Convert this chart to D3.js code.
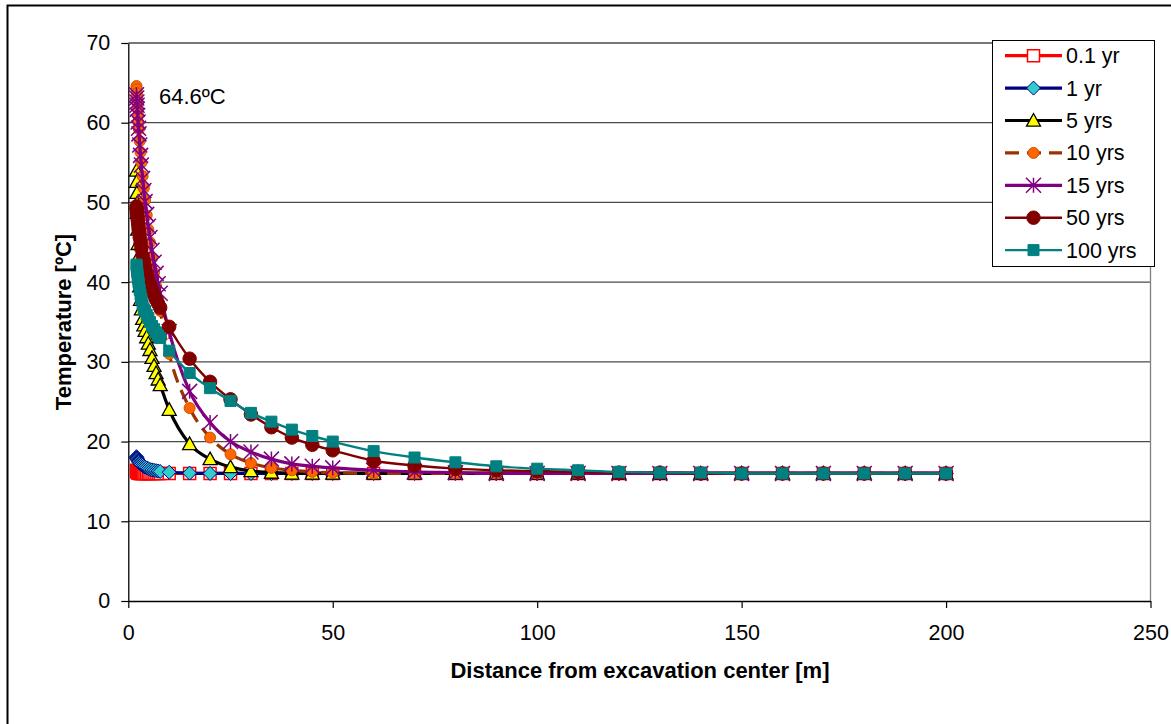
<!DOCTYPE html>
<html>
<head>
<meta charset="utf-8">
<script src="https://cdn.jsdelivr.net/npm/d3@7"></script>
<style>
  body { margin: 0; background: #fff; }
  text { font-family: "Liberation Sans", Arial, sans-serif; }
</style>
</head>
<body>
<svg id="chart" width="1171" height="724"></svg>
<script>
// distances from excavation center [m]
const distance = [2.0, 2.05, 2.1, 2.15, 2.2, 2.3, 2.4, 2.5, 2.6, 2.8, 3.0, 3.2, 3.5, 3.8, 4.1, 4.5, 4.9, 5.3, 5.8, 6.3, 6.8, 7.3, 7.8,
  10, 15, 20, 25, 30, 35, 40, 45, 50, 60, 70, 80, 90, 100, 110, 120, 130, 140, 150, 160, 170, 180, 190, 200];

// temperatures [ºC] for each time
const t01 = [16.4, 16.3, 16.25, 16.2, 16.15, 16.1, 16.1, 16.05, 16.05, 16.0, 16.0, 16.0, 16.0, 16.0, 16.0, 16.0, 16.0, 16.0, 16.0, 16.0, 16.0, 16.0, 16.0,
  16.0, 16.0, 16.0, 16.0, 16.0, 16.0, 16.0, 16.0, 16.0, 16.0, 16.0, 16.0, 16.0, 16.0, 16.0, 16.0, 16.0, 16.0, 16.0, 16.0, 16.0, 16.0, 16.0, 16.0];
const t1 = [18.1, 18.0, 17.9, 17.85, 17.8, 17.7, 17.6, 17.5, 17.4, 17.3, 17.2, 17.1, 17.0, 16.9, 16.8, 16.7, 16.6, 16.5, 16.45, 16.4, 16.35, 16.3, 16.25,
  16.15, 16.05, 16.0, 16.0, 16.0, 16.0, 16.0, 16.0, 16.0, 16.0, 16.0, 16.0, 16.0, 16.0, 16.0, 16.0, 16.0, 16.0, 16.0, 16.0, 16.0, 16.0, 16.0, 16.0];
const t5 = [54.0, 52.6, 51.2, 49.9, 48.7, 46.6, 44.8, 43.2, 41.8, 39.5, 37.8, 36.6, 35.4, 34.6, 33.9, 33.1, 32.3, 31.5, 30.5, 29.5, 28.6, 27.8, 27.1,
  24.0, 19.7, 17.8, 16.8, 16.3, 16.1, 16.0, 16.0, 16.0, 16.0, 16.0, 16.0, 16.0, 16.0, 16.0, 16.0, 16.0, 16.0, 16.0, 16.0, 16.0, 16.0, 16.0, 16.0];
const t10 = [64.6, 64.2, 63.7, 63.2, 62.7, 61.8, 60.9, 60.0, 59.2, 57.7, 56.3, 55.0, 53.3, 51.8, 50.3, 48.4, 46.6, 45.0, 43.0, 41.2, 39.5, 37.9, 36.4,
  31.0, 24.2, 20.5, 18.4, 17.3, 16.7, 16.4, 16.2, 16.1, 16.0, 16.0, 16.0, 16.0, 16.0, 16.0, 16.0, 16.0, 16.0, 16.0, 16.0, 16.0, 16.0, 16.0, 16.0];
const t15 = [63.5, 63.1, 62.6, 62.2, 61.7, 60.9, 60.1, 59.3, 58.6, 57.2, 55.9, 54.7, 53.0, 51.5, 50.1, 48.5, 47.0, 45.6, 44.0, 42.5, 41.1, 39.8, 38.6,
  33.8, 26.3, 22.4, 20.0, 18.7, 17.8, 17.2, 16.9, 16.7, 16.4, 16.2, 16.1, 16.0, 16.0, 16.0, 16.0, 16.0, 16.0, 16.0, 16.0, 16.0, 16.0, 16.0, 16.0];
const t50 = [49.5, 49.2, 48.9, 48.6, 48.3, 47.8, 47.3, 46.8, 46.4, 45.6, 44.9, 44.2, 43.3, 42.5, 41.8, 41.0, 40.3, 39.7, 39.0, 38.4, 37.8, 37.3, 36.8,
  34.4, 30.4, 27.5, 25.3, 23.4, 21.8, 20.5, 19.6, 18.9, 17.6, 17.0, 16.6, 16.4, 16.3, 16.2, 16.1, 16.1, 16.0, 16.0, 16.0, 16.0, 16.0, 16.0, 16.0];
const t100 = [42.2, 42.0, 41.7, 41.5, 41.2, 40.8, 40.4, 40.0, 39.7, 39.0, 38.4, 37.9, 37.2, 36.6, 36.4, 35.9, 35.5, 35.0, 34.5, 34.1, 33.7, 33.3, 33.0,
  31.4, 28.6, 26.7, 25.1, 23.6, 22.5, 21.5, 20.7, 20.0, 18.8, 18.0, 17.4, 16.9, 16.6, 16.4, 16.2, 16.1, 16.1, 16.0, 16.0, 16.0, 16.0, 16.0, 16.0];

const seriesNames = ["0.1 yr", "1 yr", "5 yrs", "10 yrs", "15 yrs", "50 yrs", "100 yrs"];
const seriesValues = [t01, t1, t5, t10, t15, t50, t100];

const xTicks = [0, 50, 100, 150, 200, 250];
const yTicks = [0, 10, 20, 30, 40, 50, 60, 70];

const styles = [
  { line: "#FF0000", width: 3.2, marker: "square", size: 12, fill: "#FFFFFF", stroke: "#FF0000", sw: 1.5 },
  { line: "#000080", width: 3.2, marker: "diamond", size: 14, fill: "#33CCCC", stroke: "#000080", sw: 1 },
  { line: "#000000", width: 3.2, marker: "triangle", size: 14, fill: "#FFFF00", stroke: "#000000", sw: 1.3 },
  { line: "#993300", width: 3.2, dash: "14,8", marker: "circle", size: 11, fill: "#FF6600", stroke: "#CC5200", sw: 1 },
  { line: "#800080", width: 3.2, marker: "star", size: 15, fill: "none", stroke: "#800080", sw: 1.5 },
  { line: "#800000", width: 2.4, marker: "circle", size: 13.5, fill: "#800000", stroke: "#800000", sw: 1 },
  { line: "#008080", width: 2.4, marker: "square", size: 11, fill: "#008080", stroke: "#008080", sw: 1 }
];

function markerPath(type, s) {
  const h = s / 2;
  if (type === "square") return `M${-h},${-h}H${h}V${h}H${-h}Z`;
  if (type === "diamond") return `M0,${-h}L${h},0L0,${h}L${-h},0Z`;
  if (type === "triangle") return `M0,${-h}L${h},${h * 0.8}L${-h},${h * 0.8}Z`;
  if (type === "circle") return d3.symbol(d3.symbolCircle, Math.PI * h * h)();
  // asterisk: X plus vertical bar
  return `M${-h},${-h}L${h},${h}M${h},${-h}L${-h},${h}M0,${-h}V${h}`;
}

const svg = d3.select("#chart");
svg.append("rect").attr("width", 1171).attr("height", 724).attr("fill", "#fff");

// outer chart border (runs off the right and bottom edges)
svg.append("rect")
  .attr("x", 7.5).attr("y", 5.5)
  .attr("width", 1175).attr("height", 730)
  .attr("fill", "none").attr("stroke", "#000").attr("stroke-width", 2);

const x = d3.scaleLinear().domain([0, 250]).range([128.3, 1150.5]);
const y = d3.scaleLinear().domain([0, 70]).range([601, 43]);

// gridlines
svg.append("g").selectAll("line")
  .data(yTicks.filter(d => d > 0))
  .join("line")
  .attr("x1", x(0)).attr("x2", x(250))
  .attr("y1", d => y(d)).attr("y2", d => y(d))
  .attr("stroke", "#4a4a4a").attr("stroke-width", 1.3);

// plot area right border
svg.append("line")
  .attr("x1", x(250)).attr("x2", x(250))
  .attr("y1", y(0)).attr("y2", y(70))
  .attr("stroke", "#808080").attr("stroke-width", 1.3);

// axes
const yAxis = svg.append("g")
  .attr("transform", `translate(${x(0)},0)`)
  .call(d3.axisLeft(y).tickValues(yTicks).tickSize(7).tickPadding(11).tickSizeOuter(0));
const xAxis = svg.append("g")
  .attr("transform", `translate(0,${y(0)})`)
  .call(d3.axisBottom(x).tickValues(xTicks).tickSize(7).tickPadding(17).tickSizeOuter(0));
[xAxis, yAxis].forEach(a => {
  a.select(".domain").attr("stroke", "#000").attr("stroke-width", 1.3);
  a.selectAll(".tick line").attr("stroke", "#000").attr("stroke-width", 1.2);
  a.selectAll(".tick text").attr("font-size", "21.5px").attr("fill", "#000")
    .attr("font-family", "'Liberation Sans', Arial, sans-serif");
});

// series
const line = d3.line()
  .x(d => x(d[0]))
  .y(d => y(d[1]))
  .curve(d3.curveMonotoneX);

seriesValues.forEach((vals, i) => {
  const st = styles[i];
  const pts = distance.map((d, k) => [d, vals[k]]);
  const g = svg.append("g");
  g.append("path")
    .attr("d", line(pts))
    .attr("fill", "none")
    .attr("stroke", st.line)
    .attr("stroke-width", st.width)
    .attr("stroke-dasharray", st.dash || null)
    .attr("stroke-linejoin", "round");
  g.selectAll("path.m")
    .data(pts)
    .join("path")
    .attr("class", "m")
    .attr("transform", d => `translate(${x(d[0])},${y(d[1])})`)
    .attr("d", markerPath(st.marker, st.size))
    .attr("fill", st.fill)
    .attr("stroke", st.stroke)
    .attr("stroke-width", st.sw);
});

// annotation
svg.append("text")
  .attr("x", 159).attr("y", 104)
  .attr("font-size", "22px")
  .text("64.6ºC");

// axis titles
svg.append("text")
  .attr("x", 640).attr("y", 678)
  .attr("text-anchor", "middle")
  .attr("font-size", "22px").attr("font-weight", "bold")
  .text("Distance from excavation center [m]");
svg.append("text")
  .attr("transform", "translate(71,322) rotate(-90)")
  .attr("text-anchor", "middle")
  .attr("font-size", "22px").attr("font-weight", "bold")
  .text("Temperature [ºC]");

// legend
const legend = svg.append("g");
legend.append("rect")
  .attr("x", 992.5).attr("y", 40.5)
  .attr("width", 162).attr("height", 226)
  .attr("fill", "#fff").attr("stroke", "#000").attr("stroke-width", 1);
seriesNames.forEach((name, i) => {
  const st = styles[i];
  const cy = 55.7 + i * 32.4;
  legend.append("line")
    .attr("x1", 1005).attr("x2", 1062)
    .attr("y1", cy).attr("y2", cy)
    .attr("stroke", st.line).attr("stroke-width", st.width)
    .attr("stroke-dasharray", st.dash || null);
  legend.append("path")
    .attr("transform", `translate(1033.5,${cy})`)
    .attr("d", markerPath(st.marker, st.size))
    .attr("fill", st.fill)
    .attr("stroke", st.stroke)
    .attr("stroke-width", st.sw);
  legend.append("text")
    .attr("x", 1066).attr("y", cy + 7.5)
    .attr("font-size", "21.5px")
    .text(name);
});
</script>
</body>
</html>
